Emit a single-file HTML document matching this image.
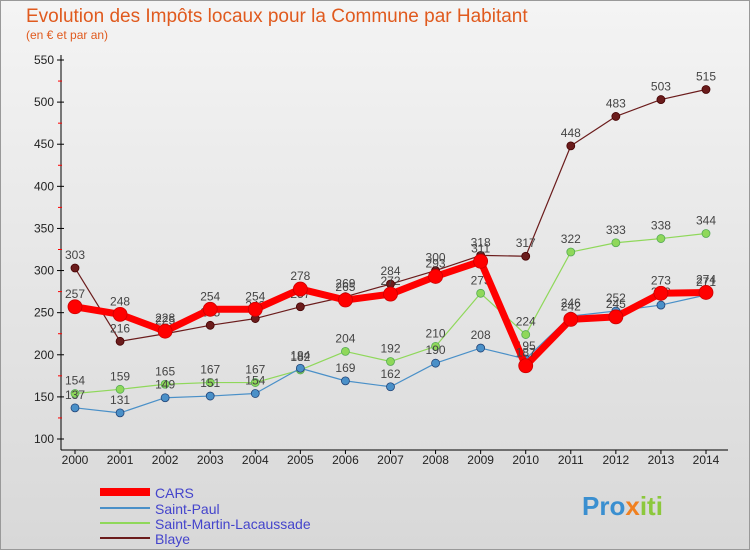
<!DOCTYPE html>
<html><head><meta charset="utf-8"><style>
body{margin:0;width:750px;height:550px;overflow:hidden;font-family:"Liberation Sans",sans-serif}
#c{position:absolute;left:0;top:0;width:748px;height:548px;border:1px solid #999;background:linear-gradient(#f4f4f4,#d8d8d8)}
</style></head><body>
<div id="c"></div>
<svg id="s" width="750" height="550" style="position:absolute;left:0;top:0">
<text x="26" y="22" font-size="19" fill="#e05a1e">Evolution des Impôts locaux pour la Commune par Habitant</text>
<text x="26" y="39" font-size="12" fill="#e05a1e">(en € et par an)</text>
<g id="ax"></g><g id="ser"></g>
<g>
<line x1="100" y1="492" x2="150" y2="492" stroke="#f00" stroke-width="8"/><text x="155" y="498" font-size="14" fill="#44c">CARS</text>
<line x1="100" y1="508" x2="150" y2="508" stroke="#4a90c8" stroke-width="2"/><text x="155" y="514" font-size="14" fill="#44c">Saint-Paul</text>
<line x1="100" y1="523" x2="150" y2="523" stroke="#8fd85a" stroke-width="2"/><text x="155" y="529" font-size="14" fill="#44c">Saint-Martin-Lacaussade</text>
<line x1="100" y1="538" x2="150" y2="538" stroke="#6b1c1c" stroke-width="2"/><text x="155" y="544" font-size="14" fill="#44c">Blaye</text>
</g>
<text x="582" y="515" font-size="26" font-weight="bold" fill="#3a8fd0">Pro<tspan fill="#f08020">x</tspan><tspan fill="#8cc83c">iti</tspan></text>
</svg>
<script>
const years=[2000,2001,2002,2003,2004,2005,2006,2007,2008,2009,2010,2011,2012,2013,2014];
const yTicks=[100,150,200,250,300,350,400,450,500,550];
const cars=[257,248,228,254,254,278,265,272,293,311,187,242,245,273,274];
const saintPaul=[137,131,149,151,154,184,169,162,190,208,195,246,252,259,271];
const saintMartin=[154,159,165,167,167,182,204,192,210,273,224,322,333,338,344];
const blaye=[303,216,225,235,243,257,269,284,300,318,317,448,483,503,515];
const NS="http://www.w3.org/2000/svg";
function X(i){return 75+i*(706-75)/(years.length-1);}
function Y(v){return 439-(v-100)*(439-60)/450;}
function mk(t,a,p){const e=document.createElementNS(NS,t);for(const k in a)e.setAttribute(k,a[k]);p.appendChild(e);return e;}
const ax=document.getElementById('ax');
const yl=mk('line',{x1:61,y1:55,x2:61,y2:450,stroke:'#000'},ax);


const xl=mk('line',{x1:61,y1:450,x2:728,y2:450,stroke:'#000'},ax);


yTicks.forEach(v=>{const y=Y(v);mk('line',{x1:57,y1:y,x2:64,y2:y,stroke:'#000'},ax);
if(v<550)mk('line',{x1:58,y1:Y(v+25),x2:62,y2:Y(v+25),stroke:'#f00'},ax);
const t=mk('text',{x:54,y:y+4,'font-size':12,'text-anchor':'end',fill:'#222'},ax);t.textContent=v;

});
years.forEach((yr,i)=>{const x=X(i);mk('line',{x1:x,y1:450,x2:x,y2:454,stroke:'#000'},ax);
const t=mk('text',{x:x,y:464,'font-size':12,'text-anchor':'middle',fill:'#222'},ax);t.textContent=yr;

});
const ser=document.getElementById('ser');
function draw(d,col,w,r,name,lc){const g=mk('g',{},ser);


mk('polyline',{points:d.map((v,i)=>X(i)+','+Y(v)).join(' '),fill:'none',stroke:col,'stroke-width':w,'stroke-linejoin':'round'},g);
d.forEach((v,i)=>{const c=mk('circle',{cx:X(i),cy:Y(v),r:r,fill:col,stroke:lc,'stroke-width':0.8},g);


const t=mk('text',{x:X(i),y:Y(v)-9,'font-size':12,'text-anchor':'middle',fill:'#444'},g);t.textContent=v;

});}
draw(blaye,'#6b1c1c',1.2,4,'series-blaye','#400');
draw(saintMartin,'#8fd85a',1.2,4,'series-saint-martin','#5a5');
draw(saintPaul,'#4a90c8',1.2,4,'series-saint-paul','#247');
draw(cars,'#f00',7,7,'series-cars','#c00');
</script>
</body></html>
